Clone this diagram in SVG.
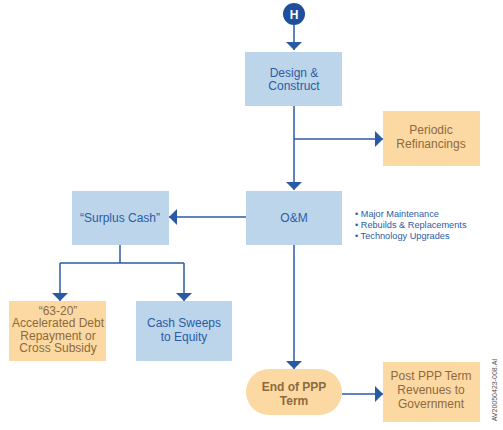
<svg xmlns="http://www.w3.org/2000/svg" width="503" height="430" viewBox="0 0 503 430">
<style>
.blue{fill:#bcd5ea}
.tan{fill:#fcd9a2}
.tb{font-family:"Liberation Sans",Arial,sans-serif;font-size:12px;fill:#2b5ca6;text-anchor:middle}
.tt{font-family:"Liberation Sans",Arial,sans-serif;font-size:12px;fill:#8d6a3e;text-anchor:middle}
.bul{font-family:"Liberation Sans",Arial,sans-serif;font-size:9.2px;fill:#2b5ca6}
.ln{stroke:#2a5aa3;stroke-width:1.5;fill:none}
</style>
<defs>
<marker id="ab" viewBox="0 0 10 10" refX="10" refY="5" markerWidth="8" markerHeight="16" markerUnits="userSpaceOnUse" orient="auto" preserveAspectRatio="none">
<path d="M0,0 L10,5 L0,10 z" fill="#2a5aa3"/>
</marker>
</defs>
<rect width="503" height="430" fill="#ffffff"/>
<g id="connectors">
<path class="ln" d="M294,25 V50" marker-end="url(#ab)"/>
<path class="ln" d="M294,106 V190" marker-end="url(#ab)"/>
<path class="ln" d="M294,139 H383" marker-end="url(#ab)"/>
<path class="ln" d="M246,217 H169" marker-end="url(#ab)"/>
<path class="ln" d="M120,245 V263"/>
<path class="ln" d="M60,263 H184"/>
<path class="ln" d="M60,263 V301" marker-end="url(#ab)"/>
<path class="ln" d="M184,263 V301" marker-end="url(#ab)"/>
<path class="ln" d="M294,245 V369" marker-end="url(#ab)"/>
<path class="ln" d="M342,394 H383" marker-end="url(#ab)"/>
</g>
<g id="H">
<circle cx="294" cy="14" r="11" fill="#1f4f9c"/>
<text x="294" y="18.5" font-family="Liberation Sans,Arial,sans-serif" font-size="12" font-weight="bold" fill="#ffffff" text-anchor="middle">H</text>
</g>
<g id="design">
<rect class="blue" x="245" y="52" width="97" height="54"/>
<text class="tb" x="294" y="76.6">Design &amp;</text>
<text class="tb" x="294" y="90.4">Construct</text>
</g>
<g id="refin">
<rect class="tan" x="383" y="111" width="97" height="55"/>
<text class="tt" x="431" y="134.1">Periodic</text>
<text class="tt" x="431" y="147.9">Refinancings</text>
</g>
<g id="om">
<rect class="blue" x="246" y="191" width="96" height="54"/>
<text class="tb" x="294" y="222" font-size="15">O&amp;M</text>
</g>
<g id="bullets">
<text class="bul" x="355" y="217">• Major Maintenance</text>
<text class="bul" x="355" y="228">• Rebuilds &amp; Replacements</text>
<text class="bul" x="355" y="239">• Technology Upgrades</text>
</g>
<g id="surplus">
<rect class="blue" x="72" y="191" width="97" height="54"/>
<text class="tb" x="120" y="222">“Surplus Cash”</text>
</g>
<g id="accel">
<rect class="tan" x="9" y="301" width="97" height="60"/>
<text class="tt" x="58" y="314.5" font-size="11">“63-20”</text>
<text class="tt" x="58" y="327.1" font-size="11">Accelerated Debt</text>
<text class="tt" x="58" y="339.7" font-size="11">Repayment or</text>
<text class="tt" x="58" y="352.3" font-size="11">Cross Subsidy</text>
</g>
<g id="sweeps">
<rect class="blue" x="136" y="301" width="96" height="60"/>
<text class="tb" x="184" y="327.1">Cash Sweeps</text>
<text class="tb" x="184" y="340.9">to Equity</text>
</g>
<g id="end">
<rect class="tan" x="246" y="369" width="96" height="46" rx="23"/>
<text class="tt" x="294" y="391.1" font-weight="bold">End of PPP</text>
<text class="tt" x="294" y="404.9" font-weight="bold">Term</text>
</g>
<g id="post">
<rect class="tan" x="383" y="362" width="97" height="60"/>
<text class="tt" x="431" y="380.2">Post PPP Term</text>
<text class="tt" x="431" y="394">Revenues to</text>
<text class="tt" x="431" y="407.8">Government</text>
</g>
<text x="497" y="390" font-family="Liberation Sans,Arial,sans-serif" font-size="7" fill="#555555" text-anchor="middle" transform="rotate(-90 497 390)">AV20050423-008.AI</text>
</svg>
